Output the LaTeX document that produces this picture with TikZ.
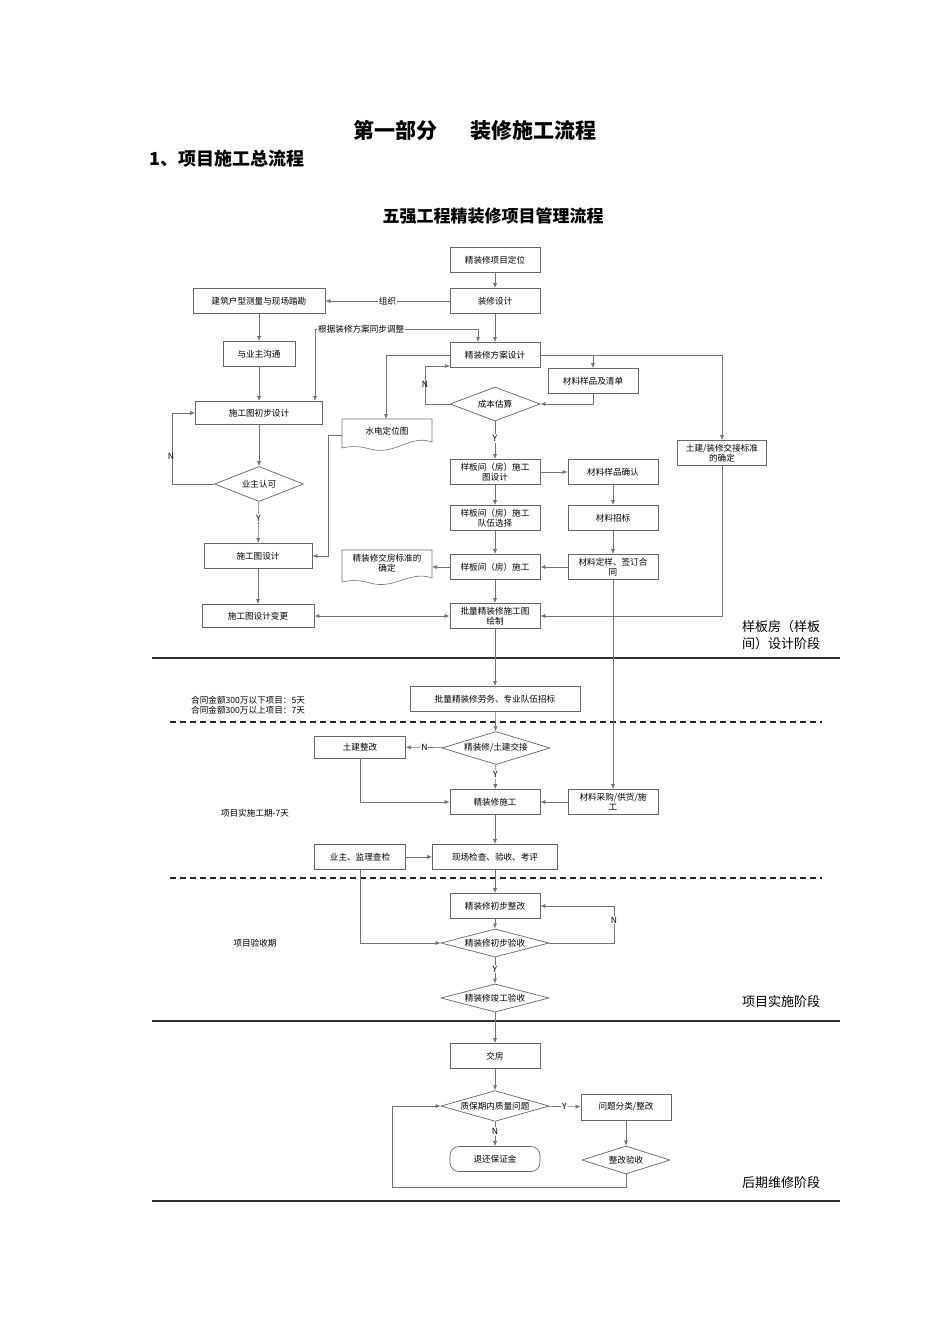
\documentclass[tikz,border=0pt]{standalone}
\usepackage{fontspec}
\setmainfont{Noto Sans CJK SC}
\usetikzlibrary{arrows.meta,positioning,shapes.geometric,calc}
\begin{document}
\begin{tikzpicture}[x=1pt,y=-1pt,
  box/.style={draw=black!60, line width=0.7pt, minimum width=90pt, minimum height=25pt, inner sep=1pt, align=center, font=\fontsize{8.6}{10}\selectfont},
  dia/.style={draw=black!60, line width=0.7pt, diamond, aspect=3.2, inner sep=0.5pt, align=center, font=\fontsize{8.6}{10}\selectfont},
  lab/.style={font=\fontsize{8.6}{10}\selectfont, inner sep=1pt},
  stage/.style={font=\fontsize{13}{17}\selectfont, align=left, inner sep=0pt},
  ln/.style={draw=black!55, line width=0.6pt},
  ar/.style={ln, -{Latex[length=5pt,width=4pt]}},
  sep/.style={draw=black!80, line width=1.6pt},
  dsep/.style={draw=black!85, line width=1.6pt, dash pattern=on 6pt off 4pt}]
\fill[white] (0,0) rectangle (950,1344);
\useasboundingbox (0,0) rectangle (950,1344);

\node[font=\bfseries\fontsize{21}{24}\selectfont] (t1) at (475,131) {第一部分\hspace{1.6em}装修施工流程};
\node[font=\bfseries\fontsize{18}{21}\selectfont, anchor=west] (t2) at (146,159) {1、项目施工总流程};
\node[font=\bfseries\fontsize{17}{20}\selectfont] (t3) at (493,216) {五强工程精装修项目管理流程};

% column nodes
\node[box] (n1) at (495,260) {精装修项目定位};
\node[box] (n2) at (495,301) {装修设计};
\node[box, minimum width=132pt] (n3) at (259,301) {建筑户型测量与现场踏勘};
\node[box, minimum width=72pt] (n5) at (259,354) {与业主沟通};
\node[box] (n4) at (495,355) {精装修方案设计};
\node[box] (m1) at (593,381) {材料样品及清单};
\node[dia, minimum width=90pt, minimum height=34pt] (d1) at (495,404) {成本估算};
\node[box, minimum width=127pt, minimum height=23pt] (n6) at (259,413) {施工图初步设计};
\node[dia, minimum width=89pt, minimum height=35pt] (d2) at (259,484) {业主认可};
\node[box, minimum width=108pt] (n7) at (258,556) {施工图设计};
\node[box, minimum width=112pt, minimum height=23pt] (n8) at (258,616) {施工图设计变更};
\node[box, minimum width=89pt] (tj) at (722,453) {土建/装修交接标准\\的确定};
\node[box] (s1) at (495,472) {样板间（房）施工\\图设计};
\node[box] (c1) at (613,472) {材料样品确认};
\node[box] (s2) at (495,518) {样板间（房）施工\\队伍选择};
\node[box] (c2) at (613,518) {材料招标};
\node[box] (s3) at (495,567) {样板间（房）施工};
\node[box] (c3) at (613,567) {材料定样、签订合\\同};
\node[box] (s4) at (495,616) {批量精装修施工图\\绘制};

% documents
\draw[ln] (342,419) -- (432,419) -- (432,442) .. controls (410,434) and (395,456) .. (370,449) .. controls (360,446) and (350,446) .. (342,448) -- cycle;
\node[lab] (doc1) at (387,431) {水电定位图};
\draw[ln] (342,550) -- (432,550) -- (432,578) .. controls (410,570) and (395,590) .. (370,583) .. controls (360,580) and (350,580) .. (342,582) -- cycle;
\node[lab, align=center] (doc2) at (387,563) {精装修交房标准的\\确定};
\coordinate (doc1w) at (342,435);
\coordinate (doc1n) at (386,419);
\coordinate (doc2e) at (432,567);

% connectors stage 1
\draw[ar] (n1) -- (n2);
\draw[ar] (n2) -- node[lab, fill=white]{组织} (n3);
\draw[ar] (n2) -- (n4);
\draw[ar] (n3) -- (n5);
\draw[ar] (n5) -- (n6);
\draw[ln] (315,398) -- (315,329) -- (478,329);
\draw[ar] (478,329) -- (478,342);
\draw[ar] (315,390) -- (315,401);
\node[lab, fill=white, anchor=west] (adj) at (317,329) {根据装修方案同步调整};
\draw[ar] (n4.east) -- (593,355) -- (m1.north);
\draw[ar] (m1.south) |- (d1.east);
\draw[ar] (d1.west) -- (425,404) |- (450,366);
\node[lab] (nn1) at (425,384) {N};
\draw[ar] (n4.west) -- (386,355) -- (doc1n);
\draw[ar] (n4.east) -- (722,355) -- (tj.north);
\draw[ar] (tj.south) |- (s4.east);
\draw[ar] (doc1w) -- (328,435) |- (n7.east);
\draw[ar] (n6) -- (d2);
\draw[ar] (d2.west) -- (172,484) |- (n6.west);
\node[lab] (nn2) at (171,456) {N};
\draw[ar] (d2) -- node[lab, fill=white, pos=0.4]{Y} (n7);
\draw[ar] (n7) -- (n8);
\draw[ar] (d1) -- node[lab, fill=white, pos=0.45]{Y} (s1);
\draw[ar] (s1) -- (c1);
\draw[ar] (c1) -- (c2);
\draw[ar] (c2) -- (c3);
\draw[ar] (s1) -- (s2);
\draw[ar] (s2) -- (s3);
\draw[ar] (c3) -- (s3);
\draw[ar] (s3) -- (doc2e);
\draw[ar] (s3) -- (s4);
\draw[{Latex[length=5pt,width=4pt]}-{Latex[length=5pt,width=4pt]}, ln] (n8) -- (s4);

\node[stage, anchor=north west] (st1) at (742,620) {样板房（样板\\间）设计阶段};
\draw[sep] (152,658) -- (840,658);

% stage 2
\node[box, minimum width=170pt] (b1) at (495,699) {批量精装修劳务、专业队伍招标};
\draw[ar] (s4) -- (b1);
\node[lab, anchor=west, align=left] (lb1) at (190,705) {合同金额300万以下项目：5天\\合同金额300万以上项目：7天};
\draw[dsep] (170,722) -- (822,722);
\node[dia, minimum width=108pt, minimum height=33pt] (d3) at (496,748) {精装修/土建交接};
\draw[ar] (b1) -- (d3);
\node[box, minimum width=91pt, minimum height=22pt] (r1) at (360,747) {土建整改};
\draw[ar] (d3) -- node[lab, fill=white]{N} (r1);
\node[box] (w1) at (495,802) {精装修施工};
\draw[ar] (d3) -- node[lab, fill=white, pos=0.4]{Y} (w1);
\draw[ar] (r1.south) |- (w1.west);
\node[box] (mp) at (613,802) {材料采购/供货/施\\工};
\draw[ar] (c3.south) -- (mp.north);
\draw[ar] (mp) -- (w1);
\node[lab] (lb2) at (255,813) {项目实施工期-7天};
\node[box, minimum width=125pt] (w2) at (495,857) {现场检查、验收、考评};
\node[box, minimum width=91pt] (o1) at (360,857) {业主、监理查检};
\draw[ar] (w1) -- (w2);
\draw[ar] (o1) -- (w2);
\draw[dsep] (170,878) -- (822,878);
\node[box] (w3) at (495,906) {精装修初步整改};
\draw[ar] (w2) -- (w3);
\node[dia, minimum width=108pt, minimum height=28pt] (d4) at (495,943) {精装修初步验收};
\draw[ar] (w3) -- (d4);
\draw[ar] (o1.south) |- (d4.west);
\draw[ar] (d4.east) -- (614,943) |- (w3.east);
\node[lab, fill=white] (nn3) at (614,920) {N};
\node[lab] (lb3) at (255,943) {项目验收期};
\node[dia, minimum width=108pt, minimum height=28pt] (d5) at (495,998) {精装修竣工验收};
\draw[ar] (d4) -- node[lab, fill=white, pos=0.45]{Y} (d5);
\node[stage, anchor=west] (st2) at (742,1002) {项目实施阶段};
\draw[sep] (152,1021) -- (840,1021);

% stage 3
\node[box] (h1) at (495,1056) {交房};
\draw[ar] (d5) -- (h1);
\node[dia, minimum width=108pt, minimum height=30pt] (d6) at (495,1106) {质保期内质量问题};
\draw[ar] (h1) -- (d6);
\node[box, minimum width=90pt, minimum height=26pt] (h2) at (626,1107) {问题分类/整改};
\draw[ar] (d6) -- node[lab, fill=white]{Y} (h2);
\node[box, rounded corners=9pt] (h3) at (495,1159) {退还保证金};
\draw[ar] (d6) -- node[lab, fill=white, pos=0.4]{N} (h3);
\node[dia, minimum width=88pt, minimum height=28pt] (d7) at (626,1160) {整改验收};
\draw[ar] (h2) -- (d7);
\draw[ar] (d7.south) -- (626,1187) -- (392,1187) |- (d6.west);
\node[stage, anchor=west] (st3) at (742,1183) {后期维修阶段};
\draw[sep] (152,1201) -- (840,1201);
\end{tikzpicture}
\end{document}
